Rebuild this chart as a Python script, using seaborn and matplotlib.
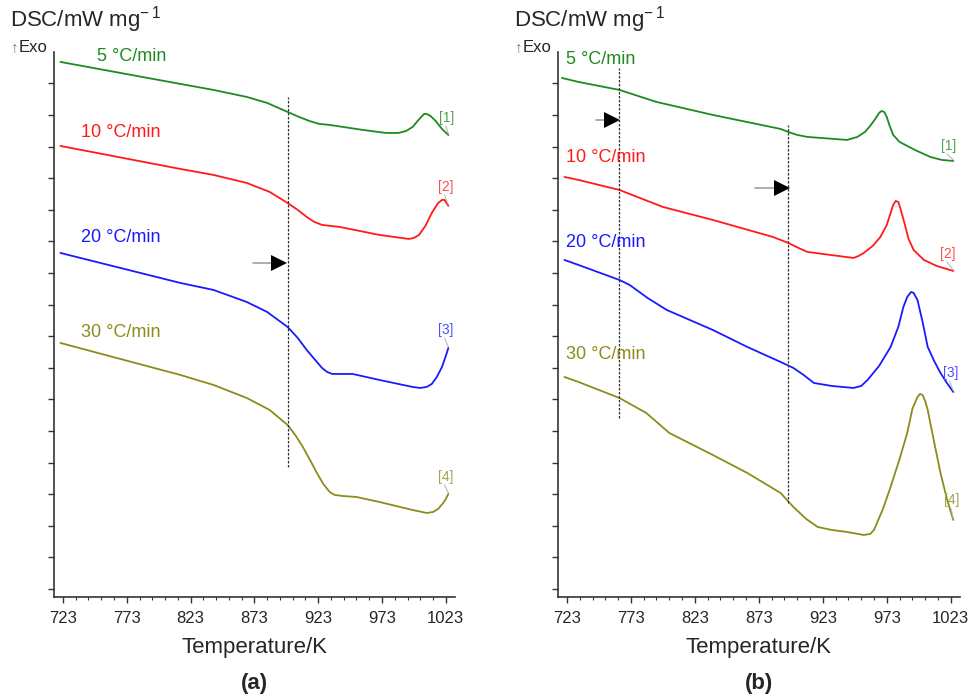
import numpy as np
import pandas as pd
import seaborn as sns
import matplotlib.pyplot as plt
from matplotlib.ticker import FixedLocator

rates = ["5 °C/min", "10 °C/min", "20 °C/min", "30 °C/min"]
tags = ["[1]", "[2]", "[3]", "[4]"]
colors = ["#1f8a1f", "#ff1a1a", "#1a1aff", "#8c8c1a"]
tag_colors = ["#4da34d", "#ff4d4d", "#4d4dff", "#a3a34d"]

# panel (a) - temperature (K) and DSC signal (mW/mg, arbitrary offset)
temp_a5 = [721, 815, 841, 867, 883, 899, 908, 916, 924, 932, 958, 976, 986, 992, 997, 1003, 1006, 1008, 1011, 1015, 1020, 1025]
dsc_a5 = [5.35, 5.13, 5.07, 5.00, 4.94, 4.85, 4.80, 4.76, 4.73, 4.72, 4.67, 4.64, 4.64, 4.66, 4.70, 4.79, 4.83, 4.83, 4.81, 4.76, 4.68, 4.62]
temp_a10 = [721, 815, 841, 867, 885, 899, 907, 914, 920, 926, 933, 940, 971, 994, 998, 1002, 1007, 1012, 1017, 1020, 1022, 1025]
dsc_a10 = [4.51, 4.28, 4.22, 4.14, 4.05, 3.94, 3.87, 3.80, 3.75, 3.72, 3.71, 3.70, 3.62, 3.58, 3.59, 3.62, 3.71, 3.84, 3.94, 3.97, 3.97, 3.91]
temp_a20 = [721, 815, 841, 867, 883, 899, 907, 914, 922, 926, 930, 934, 937, 950, 971, 997, 1003, 1008, 1012, 1016, 1020, 1023, 1025]
dsc_a20 = [3.44, 3.14, 3.07, 2.95, 2.85, 2.70, 2.59, 2.47, 2.35, 2.29, 2.25, 2.23, 2.23, 2.23, 2.17, 2.10, 2.09, 2.10, 2.13, 2.20, 2.30, 2.41, 2.49]
temp_a30 = [721, 815, 841, 867, 885, 899, 905, 911, 917, 922, 927, 932, 936, 942, 953, 971, 997, 1008, 1013, 1017, 1021, 1023, 1025]
dsc_a30 = [2.54, 2.22, 2.12, 1.99, 1.87, 1.72, 1.62, 1.50, 1.36, 1.24, 1.13, 1.05, 1.02, 1.01, 1.00, 0.95, 0.87, 0.84, 0.85, 0.88, 0.94, 0.98, 1.03]

# panel (b)
temp_b5 = [719, 732, 764, 793, 837, 890, 896, 903, 911, 942, 950, 956, 960, 964, 967, 969, 971, 973, 975, 978, 983, 995, 1007, 1016, 1025]
dsc_b5 = [5.19, 5.15, 5.07, 4.95, 4.82, 4.68, 4.65, 4.62, 4.60, 4.57, 4.60, 4.65, 4.71, 4.78, 4.84, 4.86, 4.85, 4.80, 4.72, 4.62, 4.55, 4.47, 4.40, 4.37, 4.36]
temp_b10 = [721, 732, 764, 798, 837, 884, 896, 904, 911, 947, 951, 955, 962, 968, 973, 976, 978, 980, 982, 984, 987, 990, 994, 1002, 1012, 1025]
dsc_b10 = [4.20, 4.17, 4.07, 3.90, 3.77, 3.60, 3.54, 3.49, 3.45, 3.39, 3.41, 3.44, 3.51, 3.60, 3.72, 3.84, 3.92, 3.96, 3.95, 3.87, 3.73, 3.58, 3.47, 3.37, 3.31, 3.26]
temp_b20 = [721, 732, 764, 772, 786, 801, 837, 864, 890, 900, 908, 916, 930, 947, 953, 958, 967, 976, 982, 986, 989, 992, 994, 997, 1001, 1005, 1010, 1015, 1020, 1025]
dsc_b20 = [3.37, 3.32, 3.17, 3.12, 2.99, 2.87, 2.67, 2.50, 2.35, 2.29, 2.22, 2.14, 2.11, 2.09, 2.11, 2.17, 2.31, 2.50, 2.70, 2.90, 3.00, 3.05, 3.04, 2.97, 2.75, 2.50, 2.36, 2.24, 2.14, 2.05]
temp_b30 = [721, 732, 764, 785, 803, 837, 864, 890, 900, 910, 919, 930, 942, 955, 960, 963, 970, 976, 983, 989, 993, 997, 999, 1001, 1003, 1005, 1010, 1015, 1020, 1025]
dsc_b30 = [2.20, 2.15, 1.99, 1.84, 1.64, 1.42, 1.24, 1.04, 0.90, 0.78, 0.70, 0.67, 0.65, 0.62, 0.63, 0.67, 0.88, 1.10, 1.38, 1.64, 1.88, 2.00, 2.03, 2.02, 1.96, 1.87, 1.55, 1.24, 0.98, 0.77]

# onset markers: temperature, bottom, top of dotted line
onset_a = [(899, 1.30, 5.00)]
onset_b = [(764, 1.79, 5.29), (896, 0.94, 4.72)]
# arrows: tail T, head T, DSC level
arrows_a = [(872, 892, 3.34)]
arrows_b = [(746, 758, 4.77), (870, 891, 4.09)]

# text positions of rate labels and curve tags
rate_pos_a = [(750, 5.40), (737, 4.64), (737, 3.59), (737, 2.64)]
rate_pos_b = [(722, 5.37), (722, 4.39), (722, 3.54), (722, 2.42)]
tag_pos_a = [(1024, 4.79), (1023, 4.10), (1023, 2.67), (1023, 1.20)]
tag_pos_b = [(1021, 4.51), (1021, 3.43), (1023, 2.24), (1024, 0.97)]

sns.set_theme(style="ticks")
plt.rcParams['font.family'] = ['Liberation Sans', 'DejaVu Sans']
plt.rcParams['mathtext.default'] = 'regular'


def make_df(temps, dscs):
    rows = []
    for rate, t, d in zip(rates, temps, dscs):
        rows.append(pd.DataFrame({"T": t, "DSC": d, "rate": rate}))
    return pd.concat(rows, ignore_index=True)


df_a = make_df([temp_a5, temp_a10, temp_a20, temp_a30], [dsc_a5, dsc_a10, dsc_a20, dsc_a30])
df_b = make_df([temp_b5, temp_b10, temp_b20, temp_b30], [dsc_b5, dsc_b10, dsc_b20, dsc_b30])

fig = plt.figure(figsize=(9.75, 6.97), dpi=100)
ax_a = fig.add_axes([0.0554, 0.1435, 0.411, 0.782])
ax_b = fig.add_axes([0.5723, 0.1435, 0.412, 0.782])


def draw_panel(ax, df, onsets, arrows, rate_pos, tag_pos, letter):
    sns.lineplot(data=df, x="T", y="DSC", hue="rate", palette=colors, estimator=None,
                 sort=False, legend=False, lw=1.3, ax=ax)
    for t, lo, hi in onsets:
        ax.plot([t, t], [lo, hi], color="#333333", lw=0.9, ls=(0, (2, 1.2)))
    for t0, t1, y in arrows:
        ax.plot([t0, t1], [y, y], color="#a0a0a0", lw=1.2)
        ax.plot(t1, y, marker=">", color="black", markersize=11, markeredgewidth=0)
    for (x, y), txt, c in zip(rate_pos, rates, colors):
        ax.text(x, y, txt, color=c, fontsize=13, va="center", ha="left")
    for (x, y), txt, c, rate in zip(tag_pos, tags, tag_colors, rates):
        ax.text(x, y, txt, color=c, fontsize=10, va="center", ha="center")
        end = df[df["rate"] == rate].iloc[-1]
        ax.plot([x - 1, end["T"]], [y - 0.08, end["DSC"] + 0.01], color="#b0b0b0", lw=0.7)

    ax.set_xlim(716, 1030)
    ax.set_ylim(0, 5.45)
    ax.xaxis.set_major_locator(FixedLocator(np.arange(723, 1024, 50)))
    ax.xaxis.set_minor_locator(FixedLocator(np.arange(723, 1024, 10)))
    ax.yaxis.set_major_locator(FixedLocator(np.arange(0.08, 5.3, 0.316)))
    ax.set_yticklabels([])
    ax.tick_params(axis="x", which="major", length=4, width=1, labelsize=12, pad=6, color="#333333")
    ax.tick_params(axis="x", which="minor", length=2, width=0.8, color="#333333")
    ax.tick_params(axis="y", which="major", length=4, width=1, color="#333333")
    ax.set_xlabel("Temperature/K", fontsize=16, labelpad=8)
    ax.set_ylabel("")
    for s in ["top", "right"]:
        ax.spines[s].set_visible(False)
    for s in ["left", "bottom"]:
        ax.spines[s].set_color("#333333")
        ax.spines[s].set_linewidth(1.2)
    pos = ax.get_position()
    fig.text(pos.x0 + pos.width / 2, 0.02, letter, fontsize=16, fontweight="bold", ha="center", va="center")
    fig.text(pos.x0 - 0.045, 0.972, "DSC/mW mg$^{\u2212\\,1}$", fontsize=16, ha="left", va="center")
    fig.text(pos.x0 - 0.044, 0.933, "\u2191", fontsize=11, color="#777777", ha="left", va="center")
    fig.text(pos.x0 - 0.036, 0.932, "Exo", fontsize=12, ha="left", va="center")


draw_panel(ax_a, df_a, onset_a, arrows_a, rate_pos_a, tag_pos_a, "(a)")
draw_panel(ax_b, df_b, onset_b, arrows_b, rate_pos_b, tag_pos_b, "(b)")

fig.savefig("out.png", dpi=100)
